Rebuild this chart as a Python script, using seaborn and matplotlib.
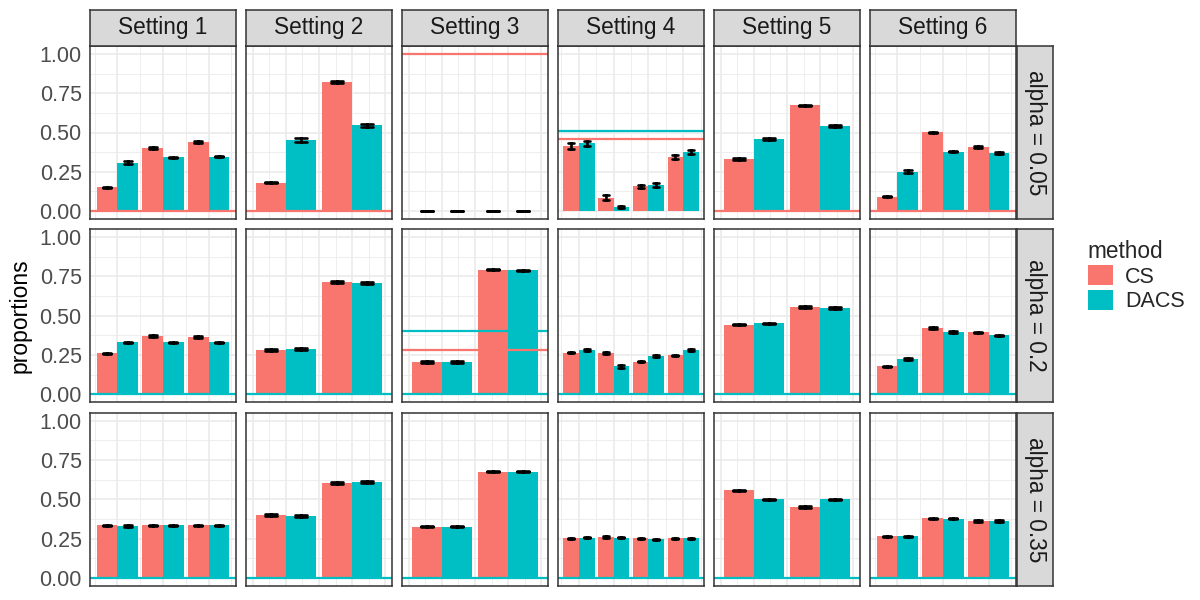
import numpy as np
import pandas as pd
import matplotlib
matplotlib.use("Agg")
import matplotlib.pyplot as plt
import seaborn as sns

# ---------------- data ----------------
settings = ["Setting 1", "Setting 2", "Setting 3", "Setting 4", "Setting 5", "Setting 6"]
alpha_rows = ["alpha = 0.05", "alpha = 0.2", "alpha = 0.35"]
groups_per_setting = [3, 2, 2, 4, 2, 3]
methods = ["CS", "DACS"]

# values listed setting by setting (groups concatenated)
cs_a005 = [0.152, 0.404, 0.442, 0.181, 0.821, 0.0, 0.0, 0.415, 0.086, 0.158, 0.343, 0.331, 0.672, 0.093, 0.501, 0.408]
dacs_a005 = [0.309, 0.343, 0.347, 0.453, 0.545, 0.0, 0.0, 0.432, 0.027, 0.166, 0.377, 0.459, 0.541, 0.251, 0.379, 0.371]
cs_a02 = [0.262, 0.370, 0.364, 0.281, 0.715, 0.205, 0.793, 0.266, 0.264, 0.209, 0.249, 0.444, 0.554, 0.178, 0.423, 0.395]
dacs_a02 = [0.332, 0.332, 0.332, 0.288, 0.710, 0.207, 0.789, 0.281, 0.180, 0.247, 0.281, 0.452, 0.548, 0.224, 0.395, 0.376]
cs_a035 = [0.333, 0.333, 0.333, 0.400, 0.602, 0.326, 0.676, 0.251, 0.259, 0.251, 0.251, 0.556, 0.451, 0.263, 0.379, 0.362]
dacs_a035 = [0.330, 0.335, 0.333, 0.392, 0.611, 0.326, 0.676, 0.255, 0.255, 0.246, 0.251, 0.501, 0.501, 0.265, 0.375, 0.362]

# half-widths of the error bars
cs_err_a005 = [0.004, 0.006, 0.006, 0.005, 0.004, 0.0, 0.0, 0.018, 0.015, 0.011, 0.014, 0.006, 0.006, 0.004, 0.004, 0.005]
dacs_err_a005 = [0.007, 0.004, 0.005, 0.011, 0.009, 0.0, 0.0, 0.016, 0.006, 0.014, 0.014, 0.009, 0.009, 0.009, 0.005, 0.005]
cs_err_a02 = [0.004, 0.005, 0.005, 0.005, 0.005, 0.005, 0.004, 0.004, 0.004, 0.004, 0.004, 0.005, 0.006, 0.003, 0.004, 0.005]
dacs_err_a02 = [0.004, 0.004, 0.004, 0.007, 0.006, 0.006, 0.005, 0.005, 0.009, 0.006, 0.006, 0.005, 0.006, 0.008, 0.006, 0.004]
cs_err_a035 = [0.004, 0.004, 0.004, 0.006, 0.006, 0.003, 0.003, 0.004, 0.004, 0.004, 0.004, 0.005, 0.007, 0.004, 0.004, 0.004]
dacs_err_a035 = [0.004, 0.004, 0.004, 0.007, 0.005, 0.004, 0.003, 0.004, 0.004, 0.004, 0.004, 0.003, 0.003, 0.004, 0.004, 0.004]

# reference horizontal lines
hline_alpha = ["alpha = 0.05"] * 7 + ["alpha = 0.2"] * 8 + ["alpha = 0.35"] * 6
hline_setting = ["Setting 1", "Setting 2", "Setting 3", "Setting 4", "Setting 4", "Setting 5", "Setting 6",
                 "Setting 1", "Setting 2", "Setting 3", "Setting 3", "Setting 3", "Setting 4", "Setting 5", "Setting 6",
                 "Setting 1", "Setting 2", "Setting 3", "Setting 4", "Setting 5", "Setting 6"]
hline_method = ["CS", "CS", "CS", "DACS", "CS", "CS", "CS",
                "DACS", "DACS", "DACS", "CS", "DACS", "DACS", "DACS", "DACS",
                "DACS", "DACS", "DACS", "DACS", "DACS", "DACS"]
hline_value = [0.0, 0.0, 1.0, 0.512, 0.457, 0.0, 0.0,
               0.0, 0.0, 0.404, 0.281, 0.0, 0.0, 0.0, 0.0,
               0.0, 0.0, 0.0, 0.0, 0.0, 0.0]

palette = {"CS": "#F8766D", "DACS": "#00BFC4"}

values = {("alpha = 0.05", "CS"): (cs_a005, cs_err_a005),
          ("alpha = 0.05", "DACS"): (dacs_a005, dacs_err_a005),
          ("alpha = 0.2", "CS"): (cs_a02, cs_err_a02),
          ("alpha = 0.2", "DACS"): (dacs_a02, dacs_err_a02),
          ("alpha = 0.35", "CS"): (cs_a035, cs_err_a035),
          ("alpha = 0.35", "DACS"): (dacs_a035, dacs_err_a035)}

rows = []
for a in alpha_rows:
    for m in methods:
        vals, errs = values[(a, m)]
        k = 0
        for s, n in zip(settings, groups_per_setting):
            for g in range(n):
                v, e = vals[k], errs[k]
                for y in (v - e, v, v + e):
                    rows.append({"alpha": a, "setting": s, "group": str(g + 1),
                                 "method": m, "proportion": y})
                k += 1
df = pd.DataFrame(rows)
hl = pd.DataFrame({"alpha": hline_alpha, "setting": hline_setting,
                   "method": hline_method, "value": hline_value})

# ---------------- figure ----------------
sns.set_theme(style="white")
plt.rcParams["font.family"] = ["Liberation Sans", "DejaVu Sans"]

W, H = 1200, 600
fig = plt.figure(figsize=(12, 6), dpi=100)

def fa(x0, y0, x1, y1):
    return [x0 / W, 1 - y1 / H, (x1 - x0) / W, (y1 - y0) / H]

col_left = [90 + 156 * i for i in range(6)]
pw = 146
row_top = [46, 229.3, 412.7]
ph = 173
border = "#333333"
grid_c = "#EBEBEB"

handles = labels = None
for r, a in enumerate(alpha_rows):
    for c, s in enumerate(settings):
        ax = fig.add_axes(fa(col_left[c], row_top[r], col_left[c] + pw, row_top[r] + ph))
        sub = df[(df["alpha"] == a) & (df["setting"] == s)]
        n = groups_per_setting[c]
        order = [str(i + 1) for i in range(n)]
        sns.barplot(data=sub, x="group", y="proportion", hue="method", order=order,
                    hue_order=methods, palette=palette, estimator="mean",
                    errorbar=lambda v: (v.min(), v.max()), capsize=0.35,
                    err_kws={"color": "black", "linewidth": 1.9},
                    width=0.9, saturation=1, linewidth=0, ax=ax,
                    legend=(r == 0 and c == 0))
        if r == 0 and c == 0:
            handles, labels = ax.get_legend_handles_labels()
            ax.get_legend().remove()
        for _, h in hl[(hl["alpha"] == a) & (hl["setting"] == s)].iterrows():
            ax.axhline(h["value"], color=palette[h["method"]], lw=1.6, zorder=2.5)

        ax.set_xlim(-0.6, n - 0.4)
        ax.set_ylim(-0.05, 1.05)
        step = 0.5 if n == 2 else 1.0
        maj = np.arange(-0.5 if n == 2 else 0, n - 0.4, step)
        mnr = maj[:-1] + step / 2
        if n != 2:
            mnr = np.concatenate([[-0.5], mnr, [n - 0.5]])
        ax.set_xticks(maj)
        ax.set_xticks(mnr, minor=True)
        ax.set_yticks([0, 0.25, 0.5, 0.75, 1.0])
        ax.set_yticks([0.125, 0.375, 0.625, 0.875], minor=True)
        ax.set_axisbelow(True)
        ax.grid(which="major", color=grid_c, lw=1.2)
        ax.grid(which="minor", color=grid_c, lw=0.6)
        ax.set_xlabel("")
        ax.set_ylabel("")
        ax.set_xticklabels([])
        if c == 0:
            ax.set_yticklabels(["0.00", "0.25", "0.50", "0.75", "1.00"])
            ax.tick_params(axis="y", which="major", length=4, width=1, color=border,
                           labelsize=15.5, labelcolor="#4D4D4D", pad=2)
        else:
            ax.set_yticklabels([])
            ax.tick_params(axis="y", which="major", length=0)
        ax.tick_params(axis="both", which="minor", length=0)
        ax.tick_params(axis="x", which="major", length=0)
        for sp in ax.spines.values():
            sp.set_color(border)
            sp.set_linewidth(1.1)
            sp.set_visible(True)

# top strips
for c, s in enumerate(settings):
    sa = fig.add_axes(fa(col_left[c], 9.5, col_left[c] + pw, 45.5))
    sa.set_facecolor("#D9D9D9")
    sa.set_xticks([]); sa.set_yticks([])
    for sp in sa.spines.values():
        sp.set_color(border); sp.set_linewidth(1.1)
    sa.text(0.5, 0.5, s, ha="center", va="center", fontsize=16.3, color="#1A1A1A",
            transform=sa.transAxes)

# right strips
for r, a in enumerate(alpha_rows):
    sa = fig.add_axes(fa(1017, row_top[r], 1053, row_top[r] + ph))
    sa.set_facecolor("#D9D9D9")
    sa.set_xticks([]); sa.set_yticks([])
    for sp in sa.spines.values():
        sp.set_color(border); sp.set_linewidth(1.1)
    sa.text(0.5, 0.5, a, ha="center", va="center", fontsize=16.3, color="#1A1A1A",
            rotation=-90, transform=sa.transAxes)

fig.text(20 / W, 1 - 316 / H, "proportions", rotation=90, ha="center", va="center",
         fontsize=16.5, color="black")

leg = fig.legend(handles, labels, title="method", loc="upper left",
                 bbox_to_anchor=(1079 / W, 1 - 231 / H), frameon=False,
                 fontsize=15.5, title_fontsize=16.3, handlelength=1.2,
                 handleheight=1.05, handletextpad=0.55, labelspacing=0.12,
                 alignment="left", borderaxespad=0)

fig.savefig("out.png", dpi=100)
